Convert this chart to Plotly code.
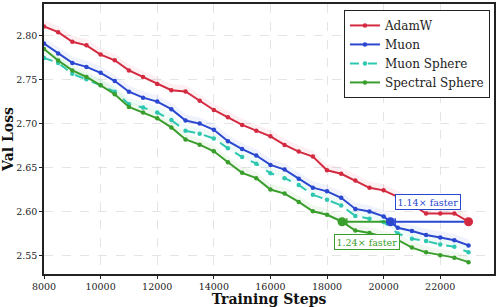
import plotly.graph_objects as go

steps = list(range(8000, 23001, 500))

adamw = [2.8105, 2.804, 2.793, 2.789, 2.7785, 2.772, 2.7605, 2.753, 2.745, 2.738,
         2.7365, 2.726, 2.7155, 2.7072, 2.6985, 2.692, 2.6855, 2.6758, 2.6682, 2.6625,
         2.647, 2.643, 2.6354, 2.627, 2.6241, 2.6166, 2.608, 2.5978, 2.5978, 2.5978, 2.5884]
muon = [2.791, 2.7797, 2.769, 2.7645, 2.7578, 2.7484, 2.7363, 2.7295, 2.725, 2.7164,
        2.7035, 2.700, 2.693, 2.680, 2.671, 2.6637, 2.653, 2.6477, 2.6374, 2.6272,
        2.623, 2.6157, 2.603, 2.600, 2.5945, 2.5815, 2.5778, 2.5733, 2.5705, 2.5673, 2.5615]
muon_sphere = [2.7747, 2.769, 2.7566, 2.7503, 2.7435, 2.7363, 2.7221, 2.7182, 2.7126, 2.704,
               2.6919, 2.6885, 2.683, 2.672, 2.662, 2.6545, 2.6435, 2.638, 2.6303, 2.619,
               2.6135, 2.6068, 2.595, 2.5918, 2.588, 2.575, 2.569, 2.5665, 2.5625, 2.560, 2.5538]
spectral_sphere = [2.7849, 2.7718, 2.7605, 2.753, 2.7435, 2.7334, 2.719, 2.7126, 2.706, 2.6957,
                   2.682, 2.6761, 2.6685, 2.656, 2.644, 2.638, 2.625, 2.6204, 2.611, 2.6004,
                   2.5963, 2.589, 2.5785, 2.5755, 2.571, 2.5677, 2.559, 2.5536, 2.5503, 2.5476, 2.5425]

series_names = ["AdamW", "Muon", "Muon Sphere", "Spectral Sphere"]

# speed-up annotation data
target_loss = 2.5884
adamw_step = 23000
muon_step = 20240
spectral_step = 18530
speedup_labels = ["1.14× faster", "1.24× faster"]

x_ticks = [8000, 10000, 12000, 14000, 16000, 18000, 20000, 22000]
y_ticks = [2.55, 2.60, 2.65, 2.70, 2.75, 2.80]

colors = ["#d42a40", "#2a47d0", "#2ec8b0", "#3a9e2c"]
fills = ["rgba(212,42,64,0.07)", "rgba(42,71,208,0.07)", "rgba(46,200,176,0.07)", "rgba(58,158,44,0.07)"]
dashes = ["solid", "solid", "dash", "solid"]
data = [adamw, muon, muon_sphere, spectral_sphere]

FONT = "DejaVu Serif"
fig = go.Figure()

# faint bands
for vals, fc in zip(data, fills):
    upper = [v + 0.007 for v in vals]
    fig.add_trace(go.Scatter(x=steps, y=upper, mode="lines", line=dict(width=0),
                             showlegend=False, hoverinfo="skip"))
    fig.add_trace(go.Scatter(x=steps, y=vals, mode="lines", line=dict(width=0),
                             fill="tonexty", fillcolor=fc, showlegend=False, hoverinfo="skip"))

for name, vals, c, d in zip(series_names, data, colors, dashes):
    fig.add_trace(go.Scatter(x=steps, y=vals, mode="lines+markers", name=name,
                             line=dict(color=c, width=2, dash=d),
                             marker=dict(size=4.5, color=c)))

# speed-up connectors
tick_h = 0.004
blue_start = muon_step + 170
green_start = spectral_step + 170
fig.add_trace(go.Scatter(x=[blue_start, adamw_step], y=[target_loss, target_loss], mode="lines",
                         line=dict(color=colors[1], width=2), showlegend=False))
fig.add_trace(go.Scatter(x=[blue_start, blue_start], y=[target_loss - tick_h, target_loss + tick_h],
                         mode="lines", line=dict(color=colors[1], width=1.5), showlegend=False))
fig.add_trace(go.Scatter(x=[green_start, muon_step], y=[target_loss, target_loss], mode="lines",
                         line=dict(color=colors[3], width=2), showlegend=False))
fig.add_trace(go.Scatter(x=[green_start, green_start], y=[target_loss - tick_h, target_loss + tick_h],
                         mode="lines", line=dict(color=colors[3], width=1.5), showlegend=False))
fig.add_trace(go.Scatter(x=[adamw_step, muon_step, spectral_step], y=[target_loss] * 3, mode="markers",
                         marker=dict(size=9, color=[colors[0], colors[1], colors[3]]), showlegend=False))

fig.add_annotation(x=21580, y=2.6106, text=speedup_labels[0], showarrow=False,
                   font=dict(family=FONT, size=9.5, color=colors[1]), bgcolor="white",
                   bordercolor=colors[1], borderwidth=1, borderpad=1.5)
fig.add_annotation(x=19410, y=2.5649, text=speedup_labels[1], showarrow=False,
                   font=dict(family=FONT, size=9.5, color=colors[3]), bgcolor="white",
                   bordercolor=colors[3], borderwidth=1, borderpad=1.5)

fig.update_layout(
    width=499, height=307,
    margin=dict(l=43, r=5, t=2, b=33),
    paper_bgcolor="white", plot_bgcolor="white",
    font=dict(family=FONT, size=9.5, color="#222"),
    showlegend=True,
    legend=dict(x=0.991, y=0.978, xanchor="right", yanchor="top", traceorder="normal",
                bgcolor="white", bordercolor="#222", borderwidth=1,
                font=dict(family=FONT, size=12, color="#222"),
                tracegroupgap=0, itemwidth=30),
    xaxis=dict(range=[8000, 23900], tickvals=x_ticks, ticktext=[str(t) for t in x_ticks],
               showgrid=True, gridcolor="#e4e4e4", griddash="dash", gridwidth=1,
               showline=True, linecolor="#222", linewidth=1.5, mirror=True,
               ticks="outside", ticklen=3, tickcolor="#222", zeroline=False,
               title=dict(text="<b>Training Steps</b>", font=dict(family=FONT, size=14, color="#111"),
                          standoff=2)),
    yaxis=dict(range=[2.529, 2.836], tickvals=y_ticks, ticktext=[f"{t:.2f}" for t in y_ticks],
               showgrid=True, gridcolor="#e4e4e4", griddash="dash", gridwidth=1,
               showline=True, linecolor="#222", linewidth=1.5, mirror=True,
               ticks="outside", ticklen=3, tickcolor="#222", zeroline=False,
               title=dict(text="<b>Val Loss</b>", font=dict(family=FONT, size=14, color="#111"),
                          standoff=4)),
)

fig.write_html("out.html", config={"displayModeBar": False},
               post_script="document.body.style.margin='0';document.body.style.overflow='hidden';")
